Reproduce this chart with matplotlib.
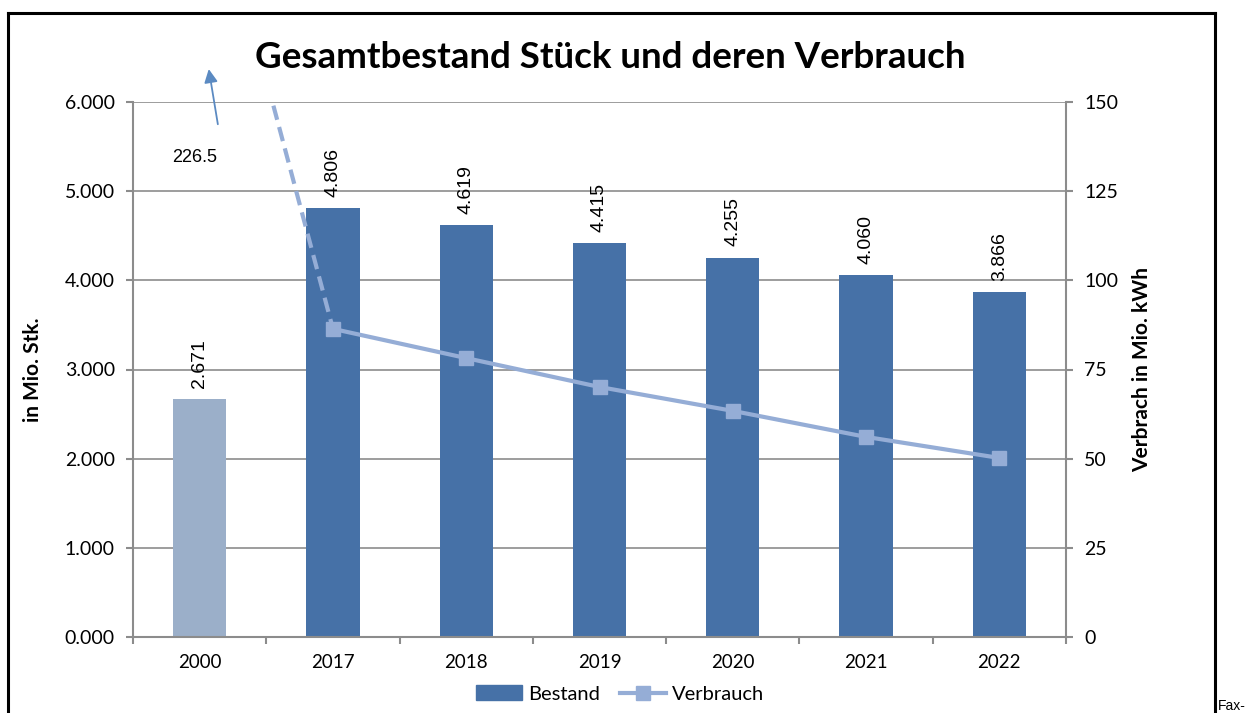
import matplotlib
matplotlib.use("Agg")
import matplotlib.pyplot as plt
from matplotlib.lines import Line2D
from matplotlib.patches import Patch
import numpy as np

years = ["2000", "2017", "2018", "2019", "2020", "2021", "2022"]
bestand = [2.671, 4.806, 4.619, 4.415, 4.255, 4.060, 3.866]
verbrauch = [226.5, 86.4, 78.2, 70.1, 63.4, 56.1, 50.2]
bestand_labels = ["2.671", "4.806", "4.619", "4.415", "4.255", "4.060", "3.866"]
left_ticks = [0, 1, 2, 3, 4, 5, 6]
left_tick_labels = ["0.000", "1.000", "2.000", "3.000", "4.000", "5.000", "6.000"]
right_ticks = [0, 25, 50, 75, 100, 125, 150]

BAR = "#4671A7"
BAR_LIGHT = "#9BAFC9"
LINE = "#95ADD6"
GRID = "#8C8C8C"
FONT = "Lato"
TICK_FS = 14

fig = plt.figure(figsize=(12.5, 7.13), dpi=100)
ax = fig.add_axes([133/1250, 1-637/713, (1066-133)/1250, (637-102)/713])
ax2 = ax.twinx()

x = np.arange(len(years))
colors = [BAR_LIGHT] + [BAR]*(len(years)-1)
ax.bar(x, bestand, width=0.4, color=colors, zorder=2)
ax.set_xlim(-0.5, len(years)-0.5)
ax.set_ylim(0, 6)
ax.set_yticks(left_ticks)
ax.set_yticklabels(left_tick_labels, fontname=FONT, fontsize=TICK_FS)
ax.set_xticks(x)
ax.set_xticklabels(years, fontname=FONT, fontsize=13.5)
ax.set_xticks(np.arange(-0.5, len(years)), minor=True)
ax.tick_params(axis="x", which="major", length=0, pad=12)
ax.tick_params(axis="x", which="minor", length=5, color=GRID, width=1.5)
ax.tick_params(axis="y", length=5, color=GRID, width=1.5, pad=8)
ax.yaxis.grid(True, color=GRID, linewidth=1.2, zorder=0)
ax.set_axisbelow(True)
for s in ["top", "right"]:
    ax.spines[s].set_visible(False)
for s in ["left", "bottom"]:
    ax.spines[s].set_color(GRID)
    ax.spines[s].set_linewidth(1.5)
ax.set_ylabel("in Mio. Stk.", fontname=FONT, fontweight="bold", fontsize=15, labelpad=16)

for xi, v, lab in zip(x, bestand, bestand_labels):
    ax.annotate(lab, (xi, v), xytext=(0, 8), textcoords="offset points",
                rotation=90, ha="center", va="bottom", fontsize=14,
                fontname="Liberation Sans")

ax2.set_ylim(0, 150)
ax2.set_yticks(right_ticks)
ax2.set_yticklabels([str(t) for t in right_ticks], fontname=FONT, fontsize=TICK_FS)
ax2.tick_params(axis="y", length=5, color=GRID, width=1.5, pad=8)
for s in ["top", "left", "bottom"]:
    ax2.spines[s].set_visible(False)
ax2.spines["right"].set_color(GRID)
ax2.spines["right"].set_linewidth(1.5)
ax2.set_ylabel("Verbrach in Mio. kWh", fontname=FONT, fontweight="bold", fontsize=15, labelpad=10)

# dashed connection from 2000 (off-scale) to 2017
ax2.plot(x[:2], verbrauch[:2], color=LINE, linewidth=3, linestyle=(0, (3.5, 1.8)), zorder=3)
ax2.plot(x[1:], verbrauch[1:], color=LINE, linewidth=3, marker="s", markersize=10, zorder=4)

# annotation for off-scale value
ax2.annotate("", xy=(0.065, 160), xytext=(0.14, 143),
             arrowprops=dict(arrowstyle="-|>", color="#5B8AC2", lw=1.3, mutation_scale=20),
             annotation_clip=False)
ax2.text(-0.035, 134.3, f"{verbrauch[0]:g}", ha="center", va="center", fontsize=13,
         fontname="Liberation Sans")

fig.text(0.488, 1-57/713, "Gesamtbestand Stück und deren Verbrauch", ha="center", va="center",
         fontname=FONT, fontweight="bold", fontsize=26.5)

handles = [Patch(color=BAR, label="Bestand"),
           Line2D([0], [0], color=LINE, lw=3, marker="s", markersize=10, label="Verbrauch")]
leg = fig.legend(handles=handles, loc="center", bbox_to_anchor=(620/1250, 1-694/713), ncol=2,
                 frameon=False, prop={"family": FONT, "size": 14.5}, handlelength=2.3,
                 columnspacing=1.0, handletextpad=0.3)

# outer frame
fw, fh = 1250, 713
for (x0, y0, x1, y1) in [(8, 13, 1215, 13), (8, 13, 8, 720), (1215, 13, 1215, 720)]:
    fig.add_artist(Line2D([x0/fw, x1/fw], [1-y0/fh, 1-y1/fh], color="black", lw=2.2,
                          transform=fig.transFigure))
fig.text(1218/fw, 1-706/fh, "Fax-", fontsize=10, fontname="Liberation Sans", ha="left", va="center")

fig.savefig("out.png", dpi=100)
